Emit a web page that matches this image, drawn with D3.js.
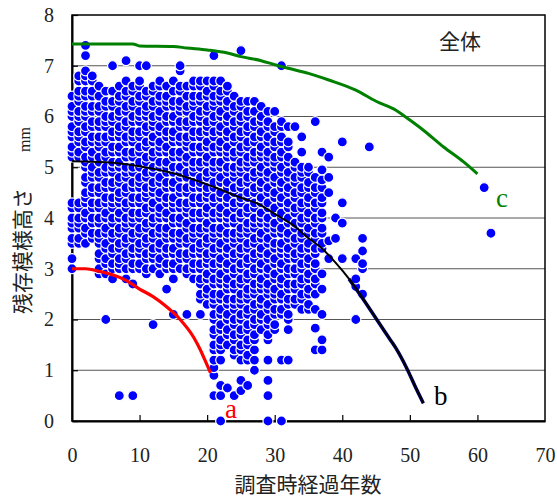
<!DOCTYPE html>
<html>
<head>
<meta charset="utf-8">
<script src="https://cdn.jsdelivr.net/npm/d3@7"></script>
<style>
  body { margin: 0; background: #fff; }
  svg { display: block; }
  .num { font-family: "Liberation Serif", "Times New Roman", serif; }
  .jp { font-family: "Noto Sans CJK JP", sans-serif; }
</style>
</head>
<body>
<script>
// survey years (x) and the residual pattern heights
const colYears = [0,1,2,3,4,5,6,7,8,9,10,11,12,13,14,15,16,17,18,19,20,21,22,23,24,25,26,27,28,29,30,31,32,33,34,35,36,37,38,39,40,42,43,44,61,62];
const colHeights = [
  [3.0,3.2,3.5,3.6,3.8,3.9,4.0,4.2,4.3,5.2,5.3,5.4,5.6,5.7,5.8,6.0,6.1,6.2,6.4],
  [3.5,3.6,3.8,3.9,4.0,4.2,4.3,5.2,5.3,5.5,5.6,5.7,5.9,6.0,6.1,6.3,6.4,6.5,6.7,6.8],
  [3.5,3.7,3.8,4.0,4.1,4.3,4.4,4.5,4.7,4.8,5.0,5.1,5.2,5.4,5.5,5.7,5.8,6.0,6.1,6.2,6.4,6.5,6.7,6.8,6.9,7.2,7.4],
  [3.6,3.7,3.9,4.0,4.2,4.3,4.5,4.6,4.8,4.9,5.0,5.2,5.3,5.5,5.6,5.8,5.9,6.1,6.2,6.4,6.5,6.7,6.8],
  [2.9,3.0,3.2,3.3,3.5,3.6,3.7,3.9,4.0,4.2,4.3,4.5,4.6,4.8,4.9,5.1,5.2,5.4,5.5,5.6,5.8,5.9,6.1,6.2,6.4,6.6],
  [2.0,2.9,3.1,3.2,3.4,3.5,3.7,3.8,4.0,4.1,4.3,4.4,4.6,4.7,4.9,5.0,5.2,5.3,5.5,5.6,5.8,5.9,6.0,6.2,6.3,6.5],
  [2.8,3.0,3.1,3.3,3.4,3.6,3.7,3.9,4.0,4.2,4.3,4.4,4.6,4.7,4.9,5.0,5.1,5.3,5.4,5.6,5.7,5.9,6.0,6.2,6.3,6.5,7.0],
  [0.5,3.0,3.1,3.2,3.4,3.5,3.7,3.8,4.0,4.1,4.3,4.4,4.5,4.7,4.8,5.0,5.1,5.3,5.4,5.6,5.7,5.8,6.0,6.1,6.3,6.4,6.6],
  [2.8,3.0,3.2,3.3,3.5,3.6,3.8,3.9,4.0,4.2,4.3,4.5,4.6,4.8,4.9,5.0,5.2,5.3,5.5,5.6,5.8,5.9,6.1,6.2,6.4,6.5,6.7,7.1],
  [0.5,2.7,3.0,3.1,3.3,3.4,3.6,3.7,3.9,4.0,4.1,4.3,4.4,4.6,4.7,4.9,5.0,5.2,5.3,5.5,5.6,5.7,5.9,6.0,6.2,6.3,6.5,6.6],
  [3.0,3.1,3.3,3.4,3.5,3.7,3.8,4.0,4.1,4.3,4.4,4.6,4.7,4.8,5.0,5.1,5.3,5.4,5.6,5.7,5.9,6.0,6.1,6.3,6.4,6.6,6.7,7.0],
  [2.9,3.0,3.2,3.3,3.5,3.6,3.8,3.9,4.1,4.2,4.4,4.5,4.6,4.8,4.9,5.1,5.2,5.4,5.5,5.7,5.8,6.0,6.1,6.2,6.4,6.5,7.0],
  [1.9,3.0,3.2,3.3,3.4,3.6,3.7,3.9,4.0,4.2,4.3,4.5,4.6,4.7,4.9,5.0,5.2,5.3,5.5,5.6,5.8,5.9,6.0,6.2,6.3,6.5,6.6],
  [2.9,3.1,3.2,3.4,3.5,3.7,3.8,4.0,4.1,4.2,4.4,4.5,4.7,4.8,5.0,5.1,5.3,5.4,5.5,5.7,5.8,6.0,6.1,6.3,6.4,6.6,6.7],
  [2.6,3.0,3.1,3.3,3.4,3.6,3.7,3.8,4.0,4.1,4.3,4.4,4.6,4.7,4.9,5.0,5.1,5.3,5.4,5.6,5.7,5.9,6.0,6.2,6.3,6.4,6.6],
  [2.1,2.8,3.0,3.1,3.3,3.4,3.6,3.7,3.9,4.0,4.2,4.3,4.4,4.6,4.7,4.9,5.0,5.2,5.3,5.5,5.6,5.7,5.9,6.0,6.2,6.3,6.5,6.7],
  [3.0,3.2,3.3,3.5,3.6,3.7,3.9,4.0,4.2,4.3,4.5,4.6,4.8,4.9,5.0,5.2,5.3,5.5,5.6,5.8,5.9,6.1,6.2,6.3,6.5,6.6,6.9,7.0],
  [2.1,2.9,3.0,3.2,3.3,3.5,3.6,3.8,3.9,4.1,4.2,4.3,4.5,4.6,4.8,4.9,5.1,5.2,5.4,5.5,5.6,5.8,5.9,6.1,6.2,6.4,6.6],
  [2.8,3.0,3.1,3.3,3.4,3.6,3.7,3.8,4.0,4.1,4.3,4.4,4.6,4.7,4.9,5.0,5.1,5.3,5.4,5.6,5.7,5.9,6.0,6.2,6.3,6.4,6.6,6.7],
  [2.1,2.4,2.5,2.7,2.8,3.0,3.1,3.3,3.4,3.5,3.7,3.8,4.0,4.1,4.3,4.4,4.6,4.7,4.8,5.0,5.1,5.3,5.4,5.6,5.7,5.9,6.0,6.1,6.3,6.4,6.6,6.7],
  [2.3,2.5,2.6,2.8,2.9,3.1,3.2,3.3,3.5,3.6,3.8,3.9,4.1,4.2,4.4,4.5,4.6,4.8,4.9,5.1,5.2,5.4,5.5,5.7,5.8,5.9,6.1,6.2,6.4,6.5,6.7],
  [0.5,0.9,1.05,1.2,1.4,1.5,1.7,1.8,2.0,2.1,2.3,2.4,2.5,2.7,2.8,3.0,3.1,3.3,3.4,3.6,3.7,3.8,4.0,4.1,4.3,4.4,4.6,4.7,4.9,5.0,5.1,5.3,5.4,5.6,5.7,5.9,6.0,6.2,6.3,6.4,6.6,6.7,7.2],
  [0.0,0.5,0.7,1.2,1.4,1.5,1.6,1.8,1.9,2.1,2.2,2.4,2.5,2.7,2.8,2.9,3.1,3.2,3.4,3.5,3.7,3.8,4.0,4.1,4.2,4.4,4.5,4.7,4.8,5.0,5.1,5.3,5.4,5.5,5.7,5.8,6.0,6.1,6.3,6.4,6.5,6.7],
  [0.65,1.5,1.7,1.8,2.0,2.1,2.3,2.4,2.6,2.7,2.8,3.0,3.1,3.3,3.4,3.6,3.7,3.9,4.0,4.1,4.3,4.4,4.6,4.7,4.9,5.0,5.2,5.3,5.4,5.6,5.7,5.9,6.0,6.2,6.3,6.5,6.6],
  [0.5,1.3,1.4,1.6,1.7,1.9,2.0,2.2,2.3,2.4,2.6,2.7,2.9,3.0,3.2,3.3,3.5,3.6,3.7,3.9,4.0,4.2,4.3,4.5,4.6,4.8,4.9,5.0,5.2,5.3,5.5,5.6,5.8,5.9,6.1,6.2,6.4],
  [0.6,0.8,1.2,1.4,1.5,1.7,1.8,2.0,2.1,2.3,2.4,2.5,2.7,2.8,3.0,3.1,3.3,3.4,3.6,3.7,3.8,4.0,4.1,4.3,4.4,4.6,4.7,4.9,5.0,5.1,5.3,5.4,5.6,5.7,5.9,6.0,6.2,6.3,7.3],
  [0.7,1.2,1.3,1.5,1.6,1.8,1.9,2.1,2.2,2.4,2.5,2.6,2.8,2.9,3.1,3.2,3.4,3.5,3.7,3.8,3.9,4.1,4.2,4.4,4.5,4.7,4.8,5.0,5.1,5.2,5.4,5.5,5.7,5.8,6.0,6.1,6.3],
  [1.0,1.2,1.4,1.6,1.7,1.9,2.0,2.2,2.3,2.5,2.6,2.7,2.9,3.0,3.2,3.3,3.5,3.6,3.8,3.9,4.0,4.2,4.3,4.5,4.6,4.8,4.9,5.1,5.2,5.3,5.5,5.6,5.8,5.9,6.1,6.3],
  [1.8,2.0,2.1,2.3,2.4,2.6,2.7,2.8,3.0,3.1,3.3,3.4,3.6,3.7,3.9,4.0,4.1,4.3,4.4,4.6,4.7,4.9,5.0,5.2,5.3,5.4,5.6,5.7,5.9,6.0,6.2],
  [0.0,0.5,0.8,1.2,1.6,1.7,1.9,2.0,2.2,2.3,2.5,2.6,2.7,2.9,3.0,3.2,3.3,3.5,3.6,3.8,3.9,4.0,4.2,4.3,4.5,4.6,4.8,4.9,5.1,5.2,5.3,5.5,5.6,5.8,5.9,6.1],
  [1.8,1.9,2.1,2.2,2.4,2.5,2.6,2.8,2.9,3.1,3.2,3.4,3.5,3.7,3.8,3.9,4.1,4.2,4.4,4.5,4.7,4.8,5.0,5.1,5.2,5.4,5.5,5.7,5.8,6.1],
  [0.0,1.2,2.1,2.2,2.4,2.5,2.7,2.8,3.0,3.1,3.3,3.4,3.5,3.7,3.8,4.0,4.1,4.3,4.4,4.6,4.7,4.9,5.0,5.2,5.3,5.5,5.6,5.8,5.9,7.0],
  [1.2,1.8,2.0,2.1,2.3,2.4,2.6,2.7,2.9,3.0,3.2,3.3,3.4,3.6,3.7,3.9,4.0,4.2,4.3,4.5,4.6,4.8,4.9,5.1,5.2,5.4,5.5,5.8],
  [2.3,2.4,2.6,2.7,2.9,3.0,3.2,3.3,3.5,3.6,3.8,3.9,4.1,4.2,4.4,4.5,4.7,4.8,5.0,5.1,5.8],
  [2.2,2.4,2.5,2.7,2.8,3.0,3.1,3.3,3.4,3.6,3.7,3.9,4.0,4.2,4.3,4.5,4.6,4.8,4.9,5.0,5.3,5.6],
  [2.2,2.3,2.5,2.6,2.8,2.9,3.1,3.2,3.4,3.5,3.7,3.8,4.0,4.1,4.3,4.4,4.6,4.7,4.9,5.0],
  [1.4,1.83,2.2,2.5,2.7,2.8,3.0,3.1,3.3,3.4,3.6,3.7,3.9,4.0,4.2,4.3,4.5,4.6,4.8,5.9],
  [1.4,1.6,2.1,2.6,2.9,3.4,3.5,3.7,3.8,4.0,4.1,4.3,4.4,4.6,4.75,4.95,5.3],
  [3.2,3.55,4.5,4.8,5.2],
  [3.6,4.0],
  [3.2,3.9,4.3,5.5],
  [2.0,2.65,2.8,3.2],
  [2.5,3.0,3.1,3.35,3.6],
  [5.4],
  [4.6],
  [3.7]
];

// fitted curves a, b, c
const curveAx = [0, 2, 4, 6, 8, 10, 12, 14, 16, 18, 19, 20, 20.5];
const curveAy = [3.0, 3.0, 2.95, 2.88, 2.77, 2.6, 2.45, 2.25, 2.0, 1.65, 1.4, 1.1, 0.95];
const curveBx = [0, 5, 10, 15, 20, 25, 28, 30, 33, 35, 37, 39, 41, 43, 45, 47, 48, 49.5, 51, 52];
const curveBy = [5.12, 5.1, 5.02, 4.88, 4.66, 4.4, 4.25, 4.08, 3.83, 3.6, 3.4, 3.12, 2.8, 2.42, 2.02, 1.62, 1.42, 1.05, 0.62, 0.35];
const curveCx = [0, 9, 10, 15, 17, 20, 23, 25, 28, 30, 32, 35, 38, 42, 45, 48, 50, 52, 55, 58, 60];
const curveCy = [7.43, 7.43, 7.39, 7.38, 7.35, 7.31, 7.25, 7.18, 7.1, 7.02, 6.95, 6.85, 6.72, 6.52, 6.3, 6.12, 5.93, 5.73, 5.4, 5.1, 4.87];

const xTicks = [0, 10, 20, 30, 40, 50, 60, 70];
const yTicks = [0, 1, 2, 3, 4, 5, 6, 7, 8];

const width = 557, height = 499;
const plotL = 72, plotR = 545, plotT = 15, plotB = 421;

const x = d3.scaleLinear().domain([0, 70]).range([plotL, plotR]);
const y = d3.scaleLinear().domain([0, 8]).range([plotB, plotT]);

const svg = d3.select('body').append('svg')
  .attr('width', width)
  .attr('height', height);

// horizontal grid
svg.append('g')
  .selectAll('line')
  .data(yTicks.filter(d => d > 0 && d < 8))
  .join('line')
  .attr('x1', plotL).attr('x2', plotR)
  .attr('y1', d => y(d)).attr('y2', d => y(d))
  .attr('stroke', '#555').attr('stroke-width', 1);

// frame
svg.append('rect')
  .attr('x', plotL).attr('y', plotT)
  .attr('width', plotR - plotL).attr('height', plotB - plotT)
  .attr('fill', 'none').attr('stroke', '#000').attr('stroke-width', 1.5);

// axes with inward ticks
const xAxis = svg.append('g')
  .attr('transform', `translate(0,${plotB})`)
  .call(d3.axisBottom(x).tickValues(xTicks).tickSizeInner(-6).tickSizeOuter(0).tickPadding(27));
const yAxis = svg.append('g')
  .attr('transform', `translate(${plotL},0)`)
  .call(d3.axisLeft(y).tickValues(yTicks).tickSizeInner(-6).tickSizeOuter(0).tickPadding(18));

[xAxis, yAxis].forEach(g => {
  g.attr('font-family', null).attr('font-size', null);
  g.select('.domain').attr('stroke', '#000').attr('stroke-width', 2);
  g.selectAll('.tick line').attr('stroke', '#000').attr('stroke-width', 1.2);
  g.selectAll('.tick text')
    .attr('class', 'num')
    .attr('fill', '#222')
    .style('font-size', '20px');
});
xAxis.selectAll('.tick line').filter(d => d === 0 || d === 70).remove();

// scatter points
const points = colYears.flatMap((yr, i) => colHeights[i].map(h => [yr, h]));
svg.append('g')
  .selectAll('circle')
  .data(points)
  .join('circle')
  .attr('cx', d => x(d[0]))
  .attr('cy', d => y(d[1]))
  .attr('r', 5)
  .attr('fill', '#0000ff')
  .attr('stroke', '#fff')
  .attr('stroke-width', 1.2);

// curves
const line = d3.line().x(d => x(d[0])).y(d => y(d[1])).curve(d3.curveMonotoneX);
const bPts = curveBx.map((v, i) => [v, curveBy[i]]);

svg.append('path')
  .datum(bPts.filter(d => d[0] >= 41))
  .attr('d', line)
  .attr('fill', 'none').attr('stroke', '#000080').attr('stroke-width', 3.5);
svg.append('path')
  .datum(bPts)
  .attr('d', line)
  .attr('fill', 'none').attr('stroke', '#000').attr('stroke-width', 2);
svg.append('path')
  .datum(curveAx.map((v, i) => [v, curveAy[i]]))
  .attr('d', line)
  .attr('fill', 'none').attr('stroke', '#ff0000').attr('stroke-width', 3.2);
svg.append('path')
  .datum(curveCx.map((v, i) => [v, curveCy[i]]))
  .attr('d', line)
  .attr('fill', 'none').attr('stroke', '#008000').attr('stroke-width', 3);

// curve labels
svg.append('text').attr('class', 'num').attr('x', 225).attr('y', 418).text('a')
  .attr('fill', '#ff0000').style('font-size', '27px');
svg.append('text').attr('class', 'num').attr('x', 434).attr('y', 405).text('b')
  .attr('fill', '#000').style('font-size', '27px');
svg.append('text').attr('class', 'num').attr('x', 496).attr('y', 207).text('c')
  .attr('fill', '#008000').style('font-size', '27px');

// panel title
svg.append('text').attr('class', 'jp').attr('x', 460).attr('y', 49).attr('text-anchor', 'middle')
  .text('全体')
  .attr('fill', '#222').style('font-size', '21px');

// axis titles
svg.append('text').attr('class', 'jp').attr('x', 308).attr('y', 492).attr('text-anchor', 'middle')
  .text('調査時経過年数')
  .attr('fill', '#222').style('font-size', '21px');

const yt = svg.append('text')
  .attr('class', 'jp')
  .attr('transform', 'translate(30,314) rotate(-90)')
  .attr('fill', '#222');
yt.append('tspan').style('font-size', '21px').text('残存模様高さ');
yt.append('tspan').attr('dx', 36).attr('class', 'num').style('font-size', '16px').text('mm');
</script>
</body>
</html>
